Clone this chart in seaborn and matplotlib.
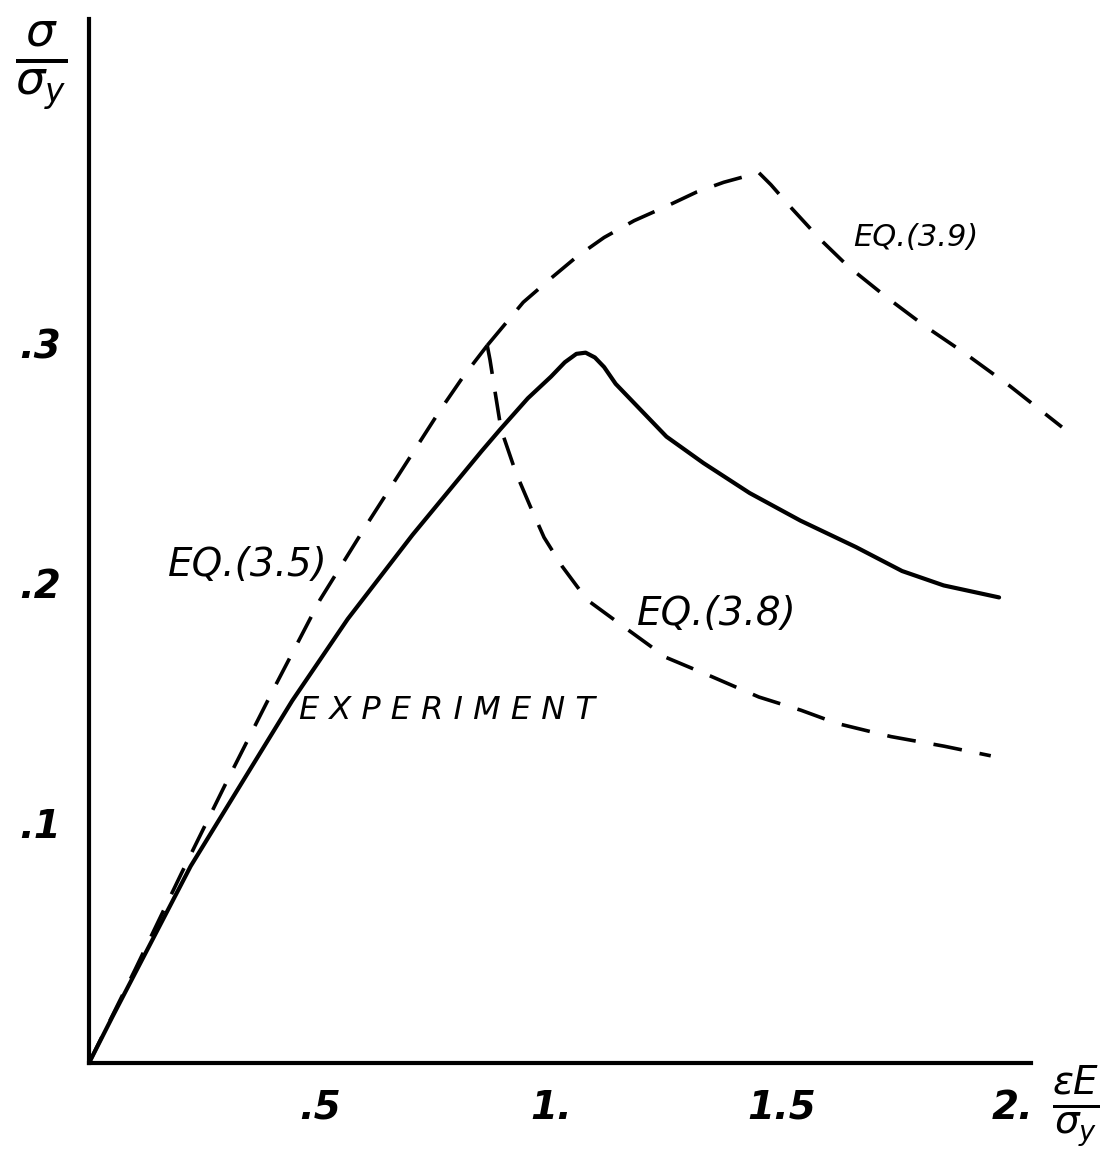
import numpy as np
import pandas as pd
import seaborn as sns
import matplotlib.pyplot as plt

# curves (x = eps*E/sigma_y, y = sigma/sigma_y)
exp_x = [0, 0.05, 0.22, 0.44, 0.56, 0.70, 0.85, 0.89, 0.95, 1.00, 1.03, 1.055, 1.075, 1.095, 1.115, 1.14,
         1.19, 1.25, 1.33, 1.43, 1.54, 1.66, 1.76, 1.85, 1.97]
exp_y = [0, 0.019, 0.082, 0.151, 0.185, 0.220, 0.255, 0.264, 0.277, 0.286, 0.292, 0.2955, 0.296, 0.294, 0.290, 0.283,
         0.273, 0.261, 0.250, 0.2375, 0.226, 0.215, 0.205, 0.199, 0.194]

eq35_x = [0, 0.1, 0.2, 0.3, 0.4, 0.5, 0.6, 0.7, 0.76, 0.81, 0.862]
eq35_y = [0, 0.039, 0.079, 0.118, 0.156, 0.193, 0.224, 0.254, 0.272, 0.286, 0.299]

eq38_x = [0.862, 0.868, 0.877, 0.892, 0.924, 0.955, 0.985, 1.024, 1.078, 1.156, 1.249, 1.348, 1.45, 1.541, 1.619, 1.736, 1.851, 1.952]
eq38_y = [0.299, 0.293, 0.282, 0.264, 0.246, 0.232, 0.219, 0.207, 0.193, 0.182, 0.169, 0.161, 0.1525, 0.147, 0.1415, 0.136, 0.132, 0.128]

eq39_x = [0.862, 0.94, 1.0, 1.056, 1.115, 1.18, 1.25, 1.316, 1.374, 1.45, 1.476, 1.517, 1.584, 1.643, 1.727, 1.81, 1.894, 1.994, 2.106]
eq39_y = [0.299, 0.317, 0.327, 0.336, 0.344, 0.351, 0.357, 0.363, 0.367, 0.371, 0.366, 0.357, 0.343, 0.332, 0.319, 0.307, 0.296, 0.282, 0.265]

x_ticks = [0.5, 1.0, 1.5, 2.0]
x_tick_labels = ['.5', '1.', '1.5', '2.']
y_ticks = [0.1, 0.2, 0.3]
y_tick_labels = ['.1', '.2', '.3']

sns.set_style("white")
plt.rcParams['font.family'] = ['DejaVu Sans']
plt.rcParams['mathtext.fontset'] = 'dejavusans'
plt.rcParams['text.color'] = 'black'
plt.rcParams['xtick.labelcolor'] = 'black'
plt.rcParams['ytick.labelcolor'] = 'black'

fig = plt.figure(figsize=(11.06, 11.65), dpi=100)
ax = fig.add_axes([0.0805, 0.0876, 0.898, 0.896])

sns.lineplot(x=exp_x, y=exp_y, sort=False, estimator=None, color='black', linewidth=3.0,
             solid_joinstyle='round', ax=ax)
dash = (0, (8, 5))
for xs, ys in [(eq35_x, eq35_y), (eq38_x, eq38_y), (eq39_x, eq39_y)]:
    sns.lineplot(x=xs, y=ys, sort=False, estimator=None, color='black', linewidth=2.6,
                 linestyle=dash, ax=ax)
for ln in ax.lines:
    ln.set_clip_on(False)

ax.set_xlim(0, 2.15)
ax.set_ylim(0, 0.435)
sns.despine(ax=ax)
ax.spines['left'].set_bounds(0, 0.435)
ax.spines['bottom'].set_bounds(0, 2.04)
for s in ['left', 'bottom']:
    ax.spines[s].set_linewidth(3)
    ax.spines[s].set_color('black')

ax.set_xticks(x_ticks)
ax.set_xticklabels(x_tick_labels)
ax.set_xticks(np.arange(0.1, 2.01, 0.1), minor=True)
ax.set_yticks(y_ticks)
ax.set_yticklabels(y_tick_labels)
ax.set_yticks(np.arange(0.02, 0.39, 0.02), minor=True)
ax.tick_params(which='both', direction='inout', length=9, width=1.8, color='black')
ax.tick_params(axis='x', which='major', labelsize=28, pad=14, labelcolor='black')
ax.tick_params(axis='y', which='major', labelsize=28, pad=16, labelcolor='black')
for lab in ax.get_xticklabels() + ax.get_yticklabels():
    lab.set_fontstyle('italic')
    lab.set_fontweight('bold')
ax.set_xlabel('')
ax.set_ylabel('')

ax.text(0.17, 0.2075, 'EQ.(3.5)', va='center', ha='left', fontsize=28, fontstyle='italic', color='black')
ax.text(0.455, 0.147, 'E X P E R I M E N T', va='center', ha='left', fontsize=23, fontstyle='italic', color='black')
ax.text(1.186, 0.187, 'EQ.(3.8)', va='center', ha='left', fontsize=28, fontstyle='italic', color='black')
ax.text(1.655, 0.344, 'EQ.(3.9)', va='center', ha='left', fontsize=22, fontstyle='italic', color='black')

fig.text(0.037, 0.944, r'$\frac{\sigma}{\sigma_y}$', fontsize=48, ha='center', va='center', color='black')
fig.text(0.973, 0.05, r'$\frac{\epsilon E}{\sigma_y}$', fontsize=40, ha='center', va='center', color='black')

fig.savefig('out.png', dpi=100, facecolor='white')
